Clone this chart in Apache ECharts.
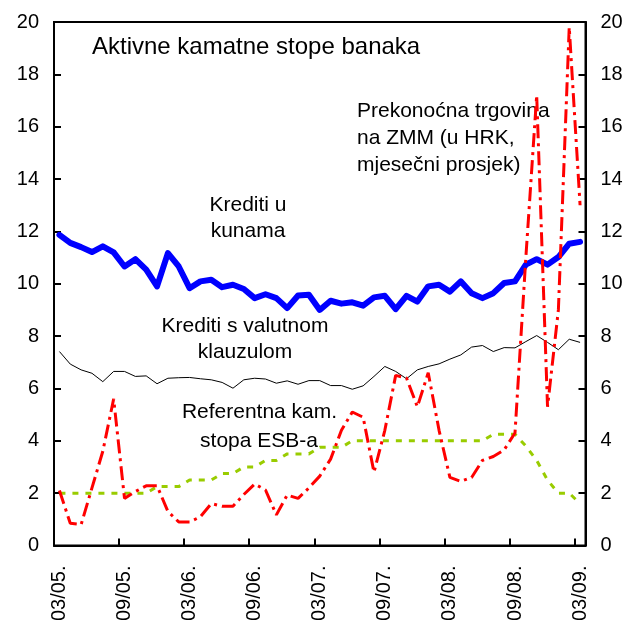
<!DOCTYPE html>
<html>
<head>
<meta charset="utf-8">
<title>Aktivne kamatne stope banaka</title>
<script src="https://cdn.jsdelivr.net/npm/echarts/dist/echarts.min.js"></script>
<style>
  html, body { margin: 0; padding: 0; background: #fff; }
  #chart { width: 635px; height: 620px; }
</style>
</head>
<body>
<div id="chart"></div>
<script>
// mjesečni podaci, 03/05. - 03/09.
const months = [
  "03/05.", "04/05.", "05/05.", "06/05.", "07/05.", "08/05.", "09/05.", "10/05.", "11/05.", "12/05.",
  "01/06.", "02/06.", "03/06.", "04/06.", "05/06.", "06/06.", "07/06.", "08/06.", "09/06.", "10/06.",
  "11/06.", "12/06.", "01/07.", "02/07.", "03/07.", "04/07.", "05/07.", "06/07.", "07/07.", "08/07.",
  "09/07.", "10/07.", "11/07.", "12/07.", "01/08.", "02/08.", "03/08.", "04/08.", "05/08.", "06/08.",
  "07/08.", "08/08.", "09/08.", "10/08.", "11/08.", "12/08.", "01/09.", "02/09.", "03/09."
];

const kreditiKune = [
  11.87, 11.56, 11.4, 11.21, 11.43, 11.2, 10.66, 10.94, 10.54, 9.9,
  11.17, 10.66, 9.83, 10.09, 10.15, 9.87, 9.96, 9.8, 9.45, 9.6,
  9.45, 9.07, 9.55, 9.58, 9.0, 9.35, 9.24, 9.29, 9.16, 9.48,
  9.54, 9.03, 9.54, 9.32, 9.9, 9.96, 9.7, 10.09, 9.64, 9.45,
  9.64, 10.03, 10.09, 10.73, 10.94, 10.73, 11.02, 11.53, 11.6
];

const kreditiValutna = [
  7.41, 6.93, 6.71, 6.58, 6.26, 6.65, 6.65, 6.46, 6.48, 6.18,
  6.39, 6.41, 6.42, 6.37, 6.33, 6.23, 6.01, 6.33, 6.39, 6.36,
  6.2, 6.29, 6.16, 6.3, 6.3, 6.11, 6.11, 5.97, 6.1, 6.46,
  6.84, 6.65, 6.37, 6.71, 6.84, 6.94, 7.12, 7.28, 7.58, 7.64,
  7.41, 7.56, 7.55, 7.79, 8.02, 7.76, 7.48, 7.88, 7.76
];

const prekonocna = [
  2.1, 0.85, 0.8, 2.2, 3.6, 5.6, 1.8, 2.06, 2.28, 2.28,
  1.3, 0.9, 0.9, 1.1, 1.6, 1.5, 1.5, 1.95, 2.35, 2.12,
  1.17, 1.93, 1.8, 2.2, 2.65, 3.3, 4.4, 5.1, 4.9, 2.8,
  4.4, 6.5, 6.4, 5.3, 6.6, 4.4, 2.6, 2.45, 2.6, 3.25,
  3.4, 3.65, 4.3, 11.0, 17.2, 5.3, 9.0, 19.8, 13.0
];

const stopaESB = [
  2.0, 2.0, 2.0, 2.0, 2.0, 2.0, 2.0, 2.0, 2.0, 2.25,
  2.25, 2.25, 2.5, 2.5, 2.5, 2.75, 2.75, 3.0, 3.0, 3.25,
  3.25, 3.5, 3.5, 3.5, 3.75, 3.75, 3.75, 4.0, 4.0, 4.0,
  4.0, 4.0, 4.0, 4.0, 4.0, 4.0, 4.0, 4.0, 4.0, 4.0,
  4.25, 4.25, 4.25, 3.8, 3.25, 2.5, 2.0, 2.0, 1.6
];

const FONT = "'Liberation Sans', Arial, sans-serif";
const every6 = function (i) { return i % 6 === 0; };

// y os, lijevo i desno jednako
function valueAxis(pos) {
  return {
    type: "value",
    position: pos,
    min: 0,
    max: 20,
    interval: 2,
    axisLine: { show: true, lineStyle: { color: "#000", width: 2 } },
    axisTick: { show: true, inside: true, length: 7, lineStyle: { color: "#000", width: 2 } },
    axisLabel: { color: "#000", fontSize: 20, fontFamily: FONT, margin: 15 },
    splitLine: { show: false }
  };
}

function label(text, x, y, size, align) {
  return {
    type: "text",
    x: x,
    y: y,
    style: {
      text: text,
      fill: "#000",
      font: size + "px " + FONT,
      textAlign: align,
      align: align,
      textVerticalAlign: "middle",
      verticalAlign: "middle"
    }
  };
}

const chart = echarts.init(document.getElementById("chart"), null, { renderer: "canvas" });

chart.setOption({
  animation: false,
  backgroundColor: "#fff",
  grid: {
    left: 54, right: 49.5, top: 22, bottom: 74.5,
    outerBoundsMode: "none",
    containLabel: false,
    show: true, borderColor: "#000", borderWidth: 2
  },
  xAxis: {
    type: "category",
    data: months,
    boundaryGap: true,
    axisLine: { show: true, lineStyle: { color: "#000", width: 2 } },
    axisTick: { show: true, inside: true, length: 7, interval: every6, lineStyle: { color: "#000", width: 2 } },
    axisLabel: { interval: every6, rotate: 90, color: "#000", fontSize: 20, fontFamily: FONT, margin: 20 },
    splitLine: { show: false }
  },
  yAxis: [valueAxis("left"), valueAxis("right")],
  series: [
    {
      name: "Krediti s valutnom klauzulom",
      type: "line",
      data: kreditiValutna,
      symbol: "none",
      lineStyle: { color: "#000", width: 1 }
    },
    {
      name: "Referentna kam. stopa ESB-a",
      type: "line",
      data: stopaESB,
      symbol: "none",
      lineStyle: { color: "#99CC00", width: 3, type: [6, 7] }
    },
    {
      name: "Krediti u kunama",
      type: "line",
      data: kreditiKune,
      symbol: "none",
      lineStyle: { color: "#0000FF", width: 6, join: "round", cap: "round" }
    },
    {
      name: "Prekonoćna trgovina na ZMM",
      type: "line",
      data: prekonocna,
      symbol: "none",
      lineStyle: { color: "#FF0000", width: 3, type: [14, 5, 3, 5] }
    }
  ],
  graphic: [
    label("Aktivne kamatne stope banaka", 92, 47, 24, "left"),
    label("Prekonoćna trgovina", 357, 111, 21, "left"),
    label("na ZMM (u HRK,", 357, 138.5, 21, "left"),
    label("mjesečni prosjek)", 357, 165.5, 21, "left"),
    label("Krediti u", 248, 205.5, 21, "center"),
    label("kunama", 248, 231.5, 21, "center"),
    label("Krediti s valutnom", 245, 326.5, 21, "center"),
    label("klauzulom", 245, 352, 21, "center"),
    label("Referentna kam.", 259.5, 412.5, 21, "center"),
    label("stopa ESB-a", 259, 441, 21, "center")
  ]
});
</script>
</body>
</html>
